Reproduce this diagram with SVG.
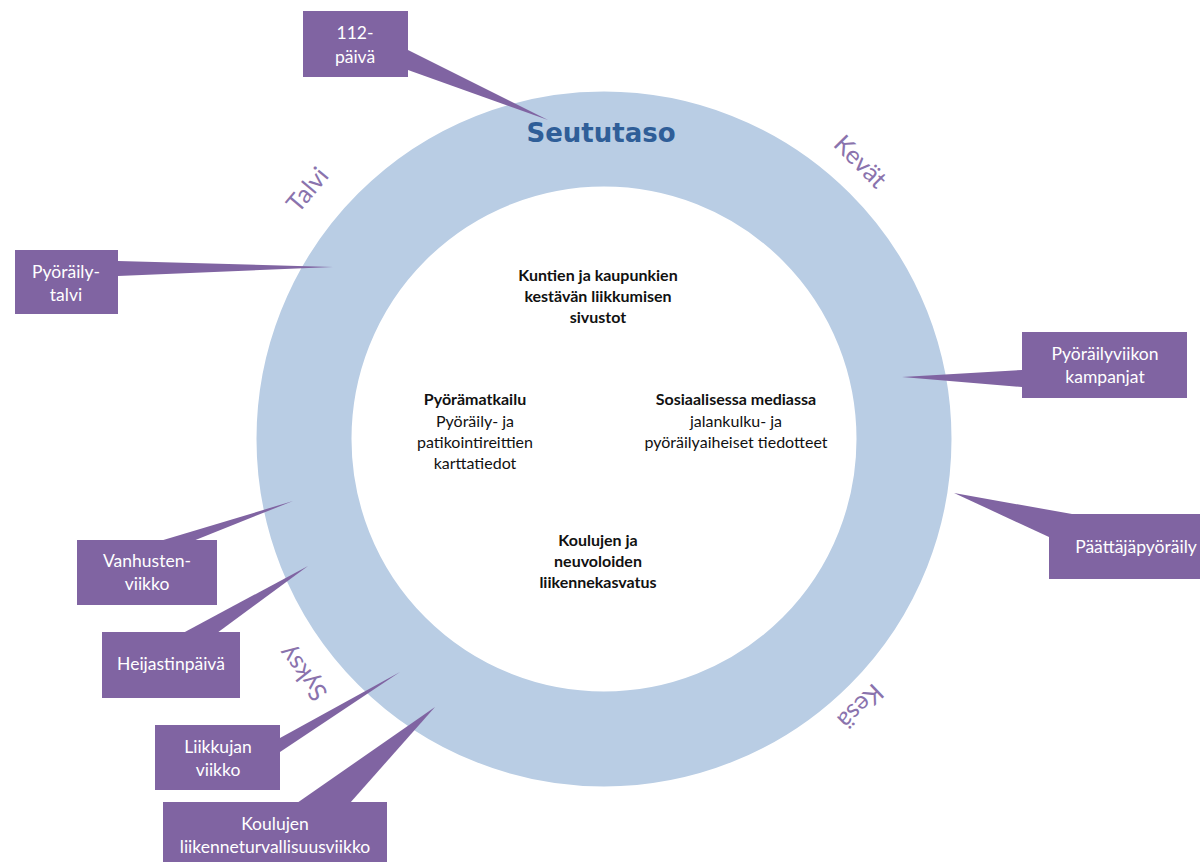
<svg xmlns="http://www.w3.org/2000/svg" width="1200" height="862" viewBox="0 0 1200 862">
<style>
.bg{fill:#ffffff}
.ring{fill:none;stroke:#b9cde4;stroke-width:95}
.box{fill:#8064a2}
.tail{fill:#8064a2}
.bt{font-family:Lato,"Liberation Sans",sans-serif;font-size:17.5px;fill:#ffffff;text-anchor:middle}
.season{font-family:Lato,"Liberation Sans",sans-serif;font-size:25px;fill:#8a73ad;text-anchor:middle}
.title{font-family:"DejaVu Sans",Verdana,sans-serif;font-weight:bold;font-size:26px;fill:#2f5e98;text-anchor:middle}
.ct{font-family:Lato,"Liberation Sans",sans-serif;font-size:16px;fill:#111111;text-anchor:middle}
.b{font-weight:bold}
</style>
<rect class="bg" x="0" y="0" width="1200" height="862"/>
<g id="ring">
<circle class="ring" cx="604" cy="439" r="300"/>
</g>
<g id="seasons">
<text class="title" x="601" y="142">Seututaso</text>
<text class="season" transform="translate(308,190) rotate(-50)" y="8">Talvi</text>
<text class="season" transform="translate(860,162) rotate(45)" y="8">Kevät</text>
<text class="season" transform="translate(860,706) rotate(136)" y="8">Kesä</text>
<text class="season" transform="translate(303,673) rotate(232)" y="8">Syksy</text>
</g>
<g id="center-texts">
<g id="sivustot">
<text class="ct b" x="598" y="281">Kuntien ja kaupunkien</text>
<text class="ct b" x="598" y="302">kestävän liikkumisen</text>
<text class="ct b" x="598" y="323">sivustot</text>
</g>
<g id="pyoramatkailu">
<text class="ct b" x="475" y="405">Pyörämatkailu</text>
<text class="ct" x="475" y="427">Pyöräily- ja</text>
<text class="ct" x="475" y="448">patikointireittien</text>
<text class="ct" x="475" y="469">karttatiedot</text>
</g>
<g id="some">
<text class="ct b" x="736" y="405">Sosiaalisessa mediassa</text>
<text class="ct" x="736" y="427">jalankulku- ja</text>
<text class="ct" x="736" y="448">pyöräilyaiheiset tiedotteet</text>
</g>
<g id="koulut">
<text class="ct b" x="598" y="546">Koulujen ja</text>
<text class="ct b" x="598" y="567">neuvoloiden</text>
<text class="ct b" x="598" y="588">liikennekasvatus</text>
</g>
</g>
<g id="connectors">
<polygon class="tail" points="408,50 408,70 548,120"/>
<polygon class="tail" points="118,261 118,276 333,267"/>
<polygon class="tail" points="1022,370 1022,387 902,377"/>
<polygon class="tail" points="1072,514 1049,537 954,493"/>
<polygon class="tail" points="160,541 193,541 293,501"/>
<polygon class="tail" points="183,633 217,633 308,566"/>
<polygon class="tail" points="280,738 280,752 400,672"/>
<polygon class="tail" points="297,803 350,803 435,707"/>
</g>
<g id="n-112">
<rect class="box" x="303" y="11" width="105" height="66"/>
<text class="bt" x="355" y="39">112-</text>
<text class="bt" x="355" y="63">päivä</text>
</g>
<g id="n-pyorailytalvi">
<rect class="box" x="15" y="250" width="103" height="64"/>
<text class="bt" x="66" y="278">Pyöräily-</text>
<text class="bt" x="66" y="301">talvi</text>
</g>
<g id="n-pyorailyviikko">
<rect class="box" x="1022" y="332" width="165" height="66"/>
<text class="bt" x="1105" y="360">Pyöräilyviikon</text>
<text class="bt" x="1105" y="383">kampanjat</text>
</g>
<g id="n-paattajapyoraily">
<rect class="box" x="1049" y="514" width="176" height="65"/>
<text class="bt" x="1136" y="553">Päättäjäpyöräily</text>
</g>
<g id="n-vanhustenviikko">
<rect class="box" x="77" y="540" width="140" height="65"/>
<text class="bt" x="147" y="567">Vanhusten-</text>
<text class="bt" x="147" y="590">viikko</text>
</g>
<g id="n-heijastinpaiva">
<rect class="box" x="102" y="632" width="138" height="66"/>
<text class="bt" x="171" y="670">Heijastinpäivä</text>
</g>
<g id="n-liikkujanviikko">
<rect class="box" x="155" y="725" width="125" height="65"/>
<text class="bt" x="218" y="753">Liikkujan</text>
<text class="bt" x="218" y="776">viikko</text>
</g>
<g id="n-koulujen">
<rect class="box" x="163" y="802" width="224" height="66"/>
<text class="bt" x="275" y="830">Koulujen</text>
<text class="bt" x="275" y="853">liikenneturvallisuusviikko</text>
</g>
</svg>
